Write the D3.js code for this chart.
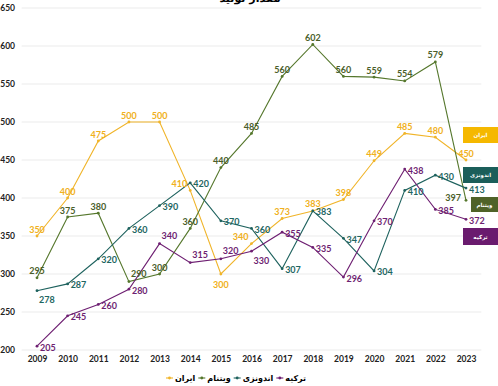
<!DOCTYPE html>
<html><head><meta charset="utf-8">
<script src="https://cdn.jsdelivr.net/npm/d3@7"></script>
<style>
html,body{margin:0;padding:0;background:#fff;}
svg{display:block;}
</style></head>
<body>
<svg id="chart" width="498" height="386"></svg>
<script>
const years = [2009,2010,2011,2012,2013,2014,2015,2016,2017,2018,2019,2020,2021,2022,2023];
const iran      = [350,400,475,500,500,410,300,340,373,383,398,449,485,480,450];
const vietnam   = [295,375,380,290,300,360,440,485,560,602,560,559,554,579,397];
const indonesia = [278,287,320,360,390,420,370,360,307,383,347,304,410,430,413];
const turkey    = [205,245,260,280,340,315,320,330,355,335,296,370,438,385,372];
const yTicks = [200,250,300,350,400,450,500,550,600,650];
const seriesNames = ["ایران","ویتنام","اندونزی","ترکیه"];
const title = "مقدار تولید";

// label placement codes (style config, separate from data)
const placeIran      = ['t','t','t','t','t','tl','b','tl','t','t','t','t','t','t','t'];
const placeVietnam   = ['t','t','t','tr','t','t','t','t','t','t','t','t','t','t','l'];
const placeIndonesia = ['br','r','r','r','r','r','r','r','r','r','r','r','r','r','r'];
const placeTurkey    = ['r','r','r','r','tr','tr','tr','br','r','r','r','r','r','r','r'];

const series = [
  {name: seriesNames[0], values: iran, place: placeIran, line:"#F0B429", label:"#F0B020", box:"#F5B800"},
  {name: seriesNames[1], values: vietnam, place: placeVietnam, line:"#55772C", label:"#4A5E2A", box:"#4F6228"},
  {name: seriesNames[2], values: indonesia, place: placeIndonesia, line:"#1E625E", label:"#1E6662", box:"#1B5E5A"},
  {name: seriesNames[3], values: turkey, place: placeTurkey, line:"#6E1F72", label:"#6E1F72", box:"#6A1B6E"}
];

const svg = d3.select("#chart");
const x = d3.scalePoint().domain(years).range([37, 466]);
const y = d3.scaleLinear().domain([200, 650]).range([350, 8]);
const step = x.step();
const gx0 = x(years[0]) - step/2, gx1 = x(years[years.length-1]) + step/2;

// title (clipped at top, as in the reference)
svg.append("text").attr("x", 250).attr("y", 2).attr("text-anchor","middle")
  .attr("font-family","DejaVu Sans").attr("font-weight","bold").attr("font-size",11)
  .attr("fill","#000").text(title);

// gridlines
svg.append("g").selectAll("line").data(yTicks).join("line")
  .attr("x1", gx0).attr("x2", gx1)
  .attr("y1", d => y(d)).attr("y2", d => y(d))
  .attr("stroke", "#e6e6e6").attr("stroke-width", 0.8);

// y axis labels
const yAxis = d3.axisLeft(y).tickValues(yTicks).tickSize(0).tickPadding(0);
const yg = svg.append("g").attr("transform","translate(15,0)").call(yAxis);
yg.select(".domain").remove();
yg.selectAll("text").attr("font-family","Lato, 'Open Sans', sans-serif").attr("font-weight","bold")
  .attr("font-size", 8.5).attr("fill","#222");

// x axis labels
const xAxis = d3.axisBottom(x).tickSize(0).tickPadding(0);
const xg = svg.append("g").attr("transform","translate(0,356)").call(xAxis);
xg.select(".domain").remove();
xg.selectAll("text").attr("font-family","Lato, 'Open Sans', sans-serif").attr("font-weight","bold")
  .attr("font-size", 8.5).attr("fill","#222");

const line = d3.line().x((d,i) => x(years[i])).y(d => y(d));

const offsets = {
  t:  {dx:0, dy:-7, anchor:"middle"},
  b:  {dx:0, dy:10, anchor:"middle"},
  r:  {dx:3, dy:1, anchor:"start"},
  l:  {dx:-5, dy:-3, anchor:"end"},
  tl: {dx:-3, dy:-7, anchor:"end"},
  tr: {dx:2, dy:-8, anchor:"start"},
  br: {dx:2, dy:9, anchor:"start"}
};

series.forEach(s => {
  const g = svg.append("g");
  g.append("path").datum(s.values).attr("d", line)
    .attr("fill","none").attr("stroke", s.line).attr("stroke-width", 1.1);
  g.selectAll("circle").data(s.values).join("circle")
    .attr("cx", (d,i) => x(years[i])).attr("cy", d => y(d)).attr("r", 1.4)
    .attr("fill", s.line);
});
series.forEach(s => {
  const g = svg.append("g");
  g.selectAll("text").data(s.values).join("text")
    .attr("x", (d,i) => x(years[i]) + offsets[s.place[i]].dx)
    .attr("y", (d,i) => y(d) + offsets[s.place[i]].dy)
    .attr("text-anchor", (d,i) => offsets[s.place[i]].anchor)
    .attr("dominant-baseline","central")
    .attr("font-family","Lato, 'Open Sans', sans-serif").attr("font-weight","bold")
    .attr("font-size", 9).attr("fill", s.label)
    .text(d => d);
});

// right-side boxes
const boxes = [
  {s: series[0], x: 463, y: 127, w: 35, h: 16},
  {s: series[2], x: 463, y: 167, w: 35, h: 16},
  {s: series[1], x: 471, y: 197, w: 27, h: 15},
  {s: series[3], x: 463, y: 228, w: 35, h: 17}
];
boxes.forEach(b => {
  svg.append("rect").attr("x", b.x).attr("y", b.y).attr("width", b.w).attr("height", b.h).attr("fill", b.s.box);
  svg.append("text").attr("x", b.x + b.w/2).attr("y", b.y + b.h/2)
    .attr("text-anchor","middle").attr("dominant-baseline","central")
    .attr("font-family","DejaVu Sans").attr("font-weight","bold").attr("font-size",5.5)
    .attr("fill","#fff").text(b.s.name);
});

// bottom legend
const legend = svg.append("g");
let lx = 166;
series.forEach(s => {
  const item = legend.append("g");
  item.append("line").attr("x1", lx).attr("x2", lx+7).attr("y1", 378).attr("y2", 378)
    .attr("stroke", s.line).attr("stroke-width", 1.1);
  item.append("circle").attr("cx", lx+3.5).attr("cy", 378).attr("r", 1.4).attr("fill", s.line);
  const t = item.append("text").attr("x", lx+9).attr("y", 378).attr("dominant-baseline","central")
    .attr("font-family","DejaVu Sans").attr("font-weight","bold").attr("font-size",8)
    .attr("fill","#000").text(s.name);
  lx += t.node().getComputedTextLength() + 12;
});
</script>
</body></html>
